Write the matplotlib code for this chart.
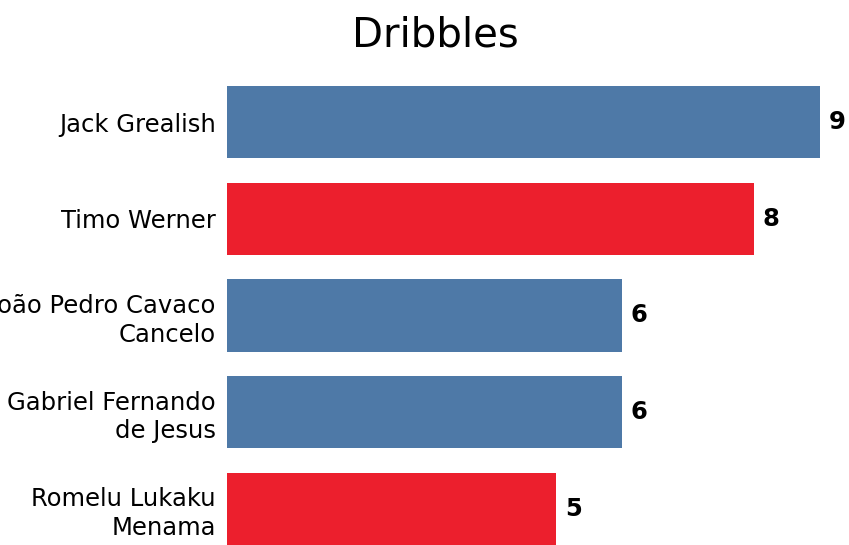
import matplotlib.pyplot as plt

players = ['Jack Grealish', 'Timo Werner', 'João Pedro Cavaco\nCancelo',
           'Gabriel Fernando\nde Jesus', 'Romelu Lukaku\nMenama']
dribbles = [9, 8, 6, 6, 5]
bar_colors = ['#4e79a7', '#ec1f2d', '#4e79a7', '#4e79a7', '#ec1f2d']

W, H = 849, 545
fig = plt.figure(figsize=(W / 100, H / 100), dpi=100)
ax = fig.add_axes([227 / W, 0, (820 - 227) / W, (545 - 86) / H])

pos = range(len(players))
ax.barh(pos, dribbles, height=0.75, color=bar_colors)
ax.set_xlim(0, 9)
ax.set_ylim(len(players) - 0.625, -0.375)

ax.set_yticks(list(pos))
ax.set_yticklabels(players, fontsize=17.5, linespacing=1.25)
ax.tick_params(axis='y', length=0, pad=8)
ax.set_xticks([])
for s in ax.spines.values():
    s.set_visible(False)

for i, v in enumerate(dribbles):
    ax.annotate(str(v), (v, i), xytext=(6, 0), textcoords='offset points',
                va='center', ha='left', fontsize=17.5, fontweight='bold')

fig.text(435 / W, 1 - 35 / H, 'Dribbles', ha='center', va='center', fontsize=29)

fig.savefig('out.png', dpi=100)
